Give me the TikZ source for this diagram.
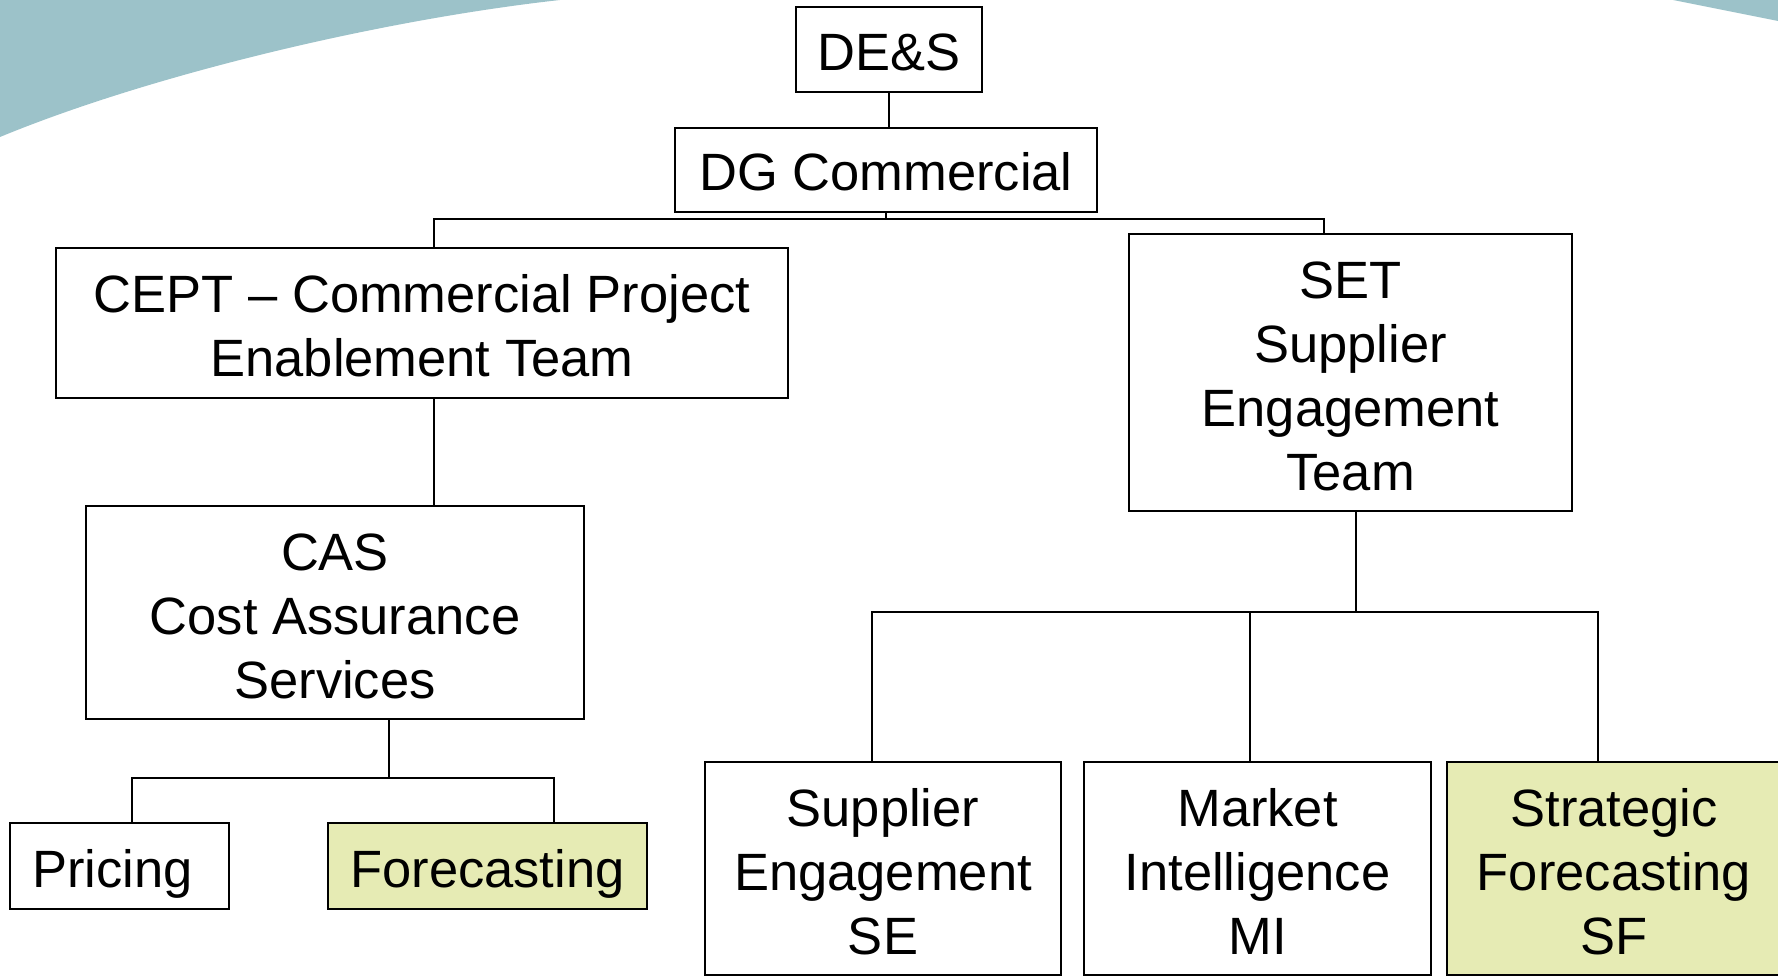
\documentclass[tikz,border=0pt]{standalone}
\usepackage{fontspec}
\setmainfont{Liberation Sans}
\definecolor{wave}{RGB}{156,194,201}
\definecolor{hilite}{RGB}{230,235,180}
% first-line strut for stacked labels
\newcommand{\firstline}{\rule{0pt}{58pt}}
\begin{document}
\begin{tikzpicture}[x=1pt,y=-1pt,
  orgbox/.style={draw=black, line width=1.6pt, fill=white, align=center,
    inner sep=0pt, font=\fontsize{52.5}{64}\selectfont,
    % fixed first-line height and last-line depth, so text sits on its baseline
    execute at begin node={\rule{0pt}{56pt}},
    execute at end node={\rule[-14pt]{0pt}{14pt}}},
  hot/.style={orgbox, fill=hilite},
  link/.style={draw=black, line width=1.3pt}]
\useasboundingbox (0,0) rectangle (1778,976);
\clip (0,0) rectangle (1778,976);

% background waves
\fill[wave] (0,0) -- (0,137) .. controls (150,75) and (380,20) .. (560,0) -- cycle;
\fill[wave] (1673,0) -- (1778,21) -- (1778,0) -- cycle;

% boxes
\node[orgbox, minimum width=186pt, minimum height=85pt] (des) at (889,49.5) {DE\&S};
\node[orgbox, minimum width=422pt, minimum height=84pt] (dgc) at (886,170) {DG Commercial};
\node[orgbox, minimum width=732pt, minimum height=150pt] (cept) at (422,323)
  {\firstline CEPT – Commercial Project\\Enablement Team};
\node[orgbox, minimum width=443pt, minimum height=277pt] (set) at (1350.5,372.5)
  {\firstline SET\\Supplier\\Engagement\\Team};
\node[orgbox, minimum width=498pt, minimum height=213pt] (cas) at (335,612.5)
  {\firstline CAS\\Cost Assurance\\Services};
\node[orgbox, minimum width=219pt, minimum height=86pt] (pricing) at (119.5,866)
  {Pricing\hspace*{14pt}};
\node[hot, minimum width=319pt, minimum height=86pt] (fcst) at (487.5,866) {Forecasting};
\node[orgbox, minimum width=356pt, minimum height=213pt] (se) at (883,868.5)
  {\firstline Supplier\\Engagement\\SE};
\node[orgbox, minimum width=347pt, minimum height=213pt] (mi) at (1257.5,868.5)
  {\firstline Market\\Intelligence\\MI};
\node[hot, minimum width=334pt, minimum height=213pt] (sf) at (1614,868.5)
  {\firstline Strategic\\Forecasting\\SF};

% junction points of the connectors
\coordinate (topbus) at (886,219);
\coordinate (ceptx) at (434,219);
\coordinate (setx) at (1324,219);
\coordinate (casbus) at (389,778);
\coordinate (prx) at (132,778);
\coordinate (fcx) at (554,778);
\coordinate (setbus) at (1356,612);
\coordinate (sex) at (872,612);
\coordinate (mix) at (1250,612);
\coordinate (sfx) at (1598,612);

% connectors
\draw[link] (des.south) -- (des.south |- dgc.north);
\draw[link] (dgc.south) -- (topbus);
\draw[link] (cept.north -| ceptx) -- (ceptx) -- (setx) -- (set.north -| setx);
\draw[link] (cept.south -| ceptx) -- (cas.north -| ceptx);
\draw[link] (cas.south -| casbus) -- (casbus);
\draw[link] (pricing.north -| prx) -- (prx) -- (fcx) -- (fcst.north -| fcx);
\draw[link] (set.south -| setbus) -- (setbus);
\draw[link] (se.north -| sex) -- (sex) -- (sfx) -- (sf.north -| sfx);
\draw[link] (mix) -- (mi.north -| mix);
\end{tikzpicture}
\end{document}
